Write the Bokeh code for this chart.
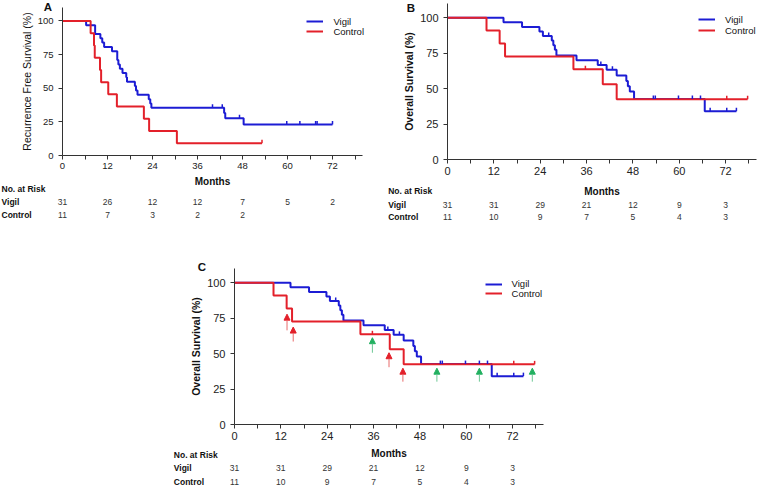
import numpy as np
from bokeh.plotting import figure
from bokeh.layouts import column, row
from bokeh.models import (ColumnDataSource, FixedTicker, Label, LabelSet, Legend,
                          LegendItem, Arrow, NormalHead, Range1d, Spacer)
from bokeh.core.properties import value
from bokeh.embed import file_html
from bokeh.resources import INLINE

FONT = "Liberation Sans"
BLUE = "#1c1cd4"
RED = "#e3202a"
GREEN = "#22b060"
AXIS = "#333333"

# ---------------- data ----------------
# Panel A: recurrence free survival (step times in months, survival % after step)
A_VIGIL_T = [0, 6.3, 8.7, 10.1, 10.6, 11.1, 13.2, 14.6, 14.9, 15.3, 16.0, 17.0, 17.2,
             19.3, 19.6, 20.0, 23.0, 23.4, 23.7, 43.1, 43.4, 48.3, 72.0]
A_VIGIL_S = [100, 96.8, 90.3, 87.1, 83.9, 80.6, 77.4, 71.0, 67.7, 64.5, 61.3, 58.1, 54.8,
             51.6, 48.4, 45.2, 41.9, 38.7, 35.5, 31.6, 27.6, 23.0, 23.0]
A_VIGIL_CENSOR = [40.0, 42.6, 47.2, 59.8, 63.3, 67.5, 67.9, 72.0]
A_CONTROL_T = [0, 7.5, 8.4, 8.6, 10.0, 10.3, 12.2, 14.5, 21.7, 23.1, 30.5, 53.2]
A_CONTROL_S = [100, 90.9, 81.8, 72.7, 63.6, 54.5, 45.5, 36.4, 27.3, 18.2, 9.1, 9.1]
A_CONTROL_CENSOR = [53.2]

# Panels B and C: overall survival
OS_VIGIL_T = [0, 14.5, 19.3, 23.8, 24.7, 27.0, 27.4, 27.8, 28.2, 33.4, 38.9, 41.2, 43.8,
              46.3, 46.7, 47.2, 48.3, 66.6, 74.8]
OS_VIGIL_S = [100, 96.8, 93.5, 90.3, 87.1, 83.9, 80.6, 77.3, 73.4, 70.0, 66.7, 63.2, 59.2,
              55.4, 51.6, 47.9, 42.6, 34.1, 34.1]
OS_VIGIL_CENSOR = [26.2, 39.7, 42.7, 53.3, 53.8, 59.8, 63.4, 65.5, 68.0, 72.3, 74.8]
OS_CONTROL_T = [0, 10.1, 13.5, 14.9, 32.6, 40.2, 43.8, 77.7]
OS_CONTROL_S = [100, 90.9, 81.8, 72.7, 63.6, 53.0, 42.4, 42.4]
OS_CONTROL_CENSOR = [35.7, 72.3, 77.7]

# Numbers at risk
RISK_MONTHS = [0, 12, 24, 36, 48, 60, 72]
A_RISK_VIGIL = [31, 26, 12, 12, 7, 5, 2]
A_RISK_CONTROL = [11, 7, 3, 2, 2]
OS_RISK_VIGIL = [31, 31, 29, 21, 12, 9, 3]
OS_RISK_CONTROL = [11, 10, 9, 7, 5, 4, 3]

# Panel C arrows (month, tip %, tail %)
C_RED_ARROW_X = [13.6, 15.2, 40.0, 43.6]
C_RED_ARROW_TIP = [77.8, 68.7, 50.6, 39.7]
C_RED_ARROW_TAIL = [66.4, 58.5, 40.4, 30.2]
C_GREEN_ARROW_X = [35.7, 52.4, 63.4, 77.1]
C_GREEN_ARROW_TIP = [61.2, 39.7, 39.7, 39.7]
C_GREEN_ARROW_TAIL = [50.6, 30.2, 30.2, 30.2]

X_TICKS = [0, 12, 24, 36, 48, 60, 72]
X_MINOR = [6, 18, 30, 42, 54, 66, 78]
Y_TICKS = [0, 25, 50, 75, 100]
X_MAX = 80
Y_MAX = 110

LEG_H = 12


def surv_at(T, S, times):
    T = np.asarray(T); S = np.asarray(S)
    idx = np.searchsorted(T, np.asarray(times), side="right") - 1
    return S[idx]


def km_panel(letter, ylabel, ylabel_bold, vt, vs, vc, ct, cs, cc, rv, rc,
             W, H, px0, px80, py110, py0, tick_size, xlabel_standoff,
             letter_pos, legend_x, legend_rows, risk_rows, risk_x):
    pxpm = (px80 - px0) / X_MAX
    pxpu = (py0 - py110) / Y_MAX
    tx = lambda px: (px - px0) / pxpm
    ty = lambda py: (py0 - py) / pxpu
    p = figure(width=W, height=H, title=None,
               x_range=Range1d(tx(0), tx(W)), y_range=Range1d(ty(H), ty(0)),
               min_border=0, output_backend="svg", toolbar_location=None)
    p.grid.visible = False
    p.outline_line_color = None
    p.background_fill_color = "white"
    p.border_fill_color = "white"

    # axes placed at the data origin, limited to the plotted range
    p.xaxis.fixed_location = 0
    p.yaxis.fixed_location = 0
    p.xaxis.bounds = (0, X_MAX)
    p.yaxis.bounds = (0, Y_MAX)
    p.xaxis.ticker = FixedTicker(ticks=X_TICKS, minor_ticks=X_MINOR)
    p.yaxis.ticker = FixedTicker(ticks=Y_TICKS, minor_ticks=[])
    for ax in (p.xaxis, p.yaxis):
        ax.axis_line_color = AXIS
        ax.major_tick_line_color = AXIS
        ax.minor_tick_line_color = AXIS
        ax.major_tick_in = 0
        ax.major_tick_out = 4
        ax.minor_tick_in = 0
        ax.minor_tick_out = 4
        ax.major_label_text_font = FONT
        ax.major_label_text_font_size = tick_size
        ax.major_label_text_color = "#222222"
        ax.axis_label_text_font = FONT
        ax.axis_label_text_color = "#111111"
    p.xaxis.major_label_standoff = 3
    p.yaxis.major_label_standoff = 5
    p.xaxis.axis_label = "Months"
    p.xaxis.axis_label_text_font_style = "bold"
    p.xaxis.axis_label_text_font_size = "10px"
    p.xaxis.axis_label_standoff = xlabel_standoff
    p.yaxis.axis_label = ylabel
    p.yaxis.axis_label_text_font_style = "bold" if ylabel_bold else "normal"
    p.yaxis.axis_label_text_font_size = "10.5px"
    p.yaxis.axis_label_standoff = 2

    # curves
    rv_ = p.step(vt, vs, mode="after", line_color=BLUE, line_width=2)
    rc_ = p.step(ct, cs, mode="after", line_color=RED, line_width=2)
    tick_h = 3.5 / pxpu
    for cens, T, S, col in ((cc, ct, cs, RED), (vc, vt, vs, BLUE)):
        yy = surv_at(T, S, cens)
        src = ColumnDataSource(dict(x=cens, y0=yy, y1=yy + tick_h))
        p.segment(x0="x", y0="y0", x1="x", y1="y1", source=src,
                  line_color=col, line_width=1.5)

    # legend: one entry per row so the row spacing can follow the original
    for lab, r, cy in (("Vigil", rv_, legend_rows[0]), ("Control", rc_, legend_rows[1])):
        leg = Legend(items=[LegendItem(label=lab, renderers=[r])],
                     location=(legend_x, H - cy - LEG_H / 2),
                     border_line_color=None, background_fill_alpha=0,
                     padding=0, spacing=0, margin=0, label_standoff=10,
                     glyph_width=17, glyph_height=LEG_H, label_height=LEG_H,
                     label_text_font=FONT, label_text_font_size="9.5px",
                     label_text_color="#111111")
        p.add_layout(leg)

    # panel letter
    p.add_layout(Label(x=tx(letter_pos[0]), y=ty(letter_pos[1]),
                       text=letter, text_font=FONT, text_font_size="11.5px",
                       text_font_style="bold", text_align="center",
                       text_baseline="middle", text_color="#111111"))

    # numbers at risk
    for txt, rpx in (("No. at Risk", risk_rows[0]), ("Vigil", risk_rows[1]),
                     ("Control", risk_rows[2])):
        p.add_layout(Label(x=tx(risk_x), y=ty(rpx), text=txt, text_font=FONT,
                           text_font_size="8.5px", text_font_style="bold",
                           text_align="left", text_baseline="middle",
                           text_color="#111111"))
    for counts, rpx in ((rv, risk_rows[1]), (rc, risk_rows[2])):
        src = ColumnDataSource(dict(x=RISK_MONTHS[:len(counts)],
                                    y=[ty(rpx)] * len(counts),
                                    t=[str(c) for c in counts]))
        p.add_layout(LabelSet(x="x", y="y", text="t", source=src,
                              text_font=value(FONT), text_font_size="8.5px",
                              text_align="center", text_baseline="middle",
                              text_color="#333333"))
    return p


pA = km_panel("A", "Recurrence Free Survival (%)", False,
              A_VIGIL_T, A_VIGIL_S, A_VIGIL_CENSOR,
              A_CONTROL_T, A_CONTROL_S, A_CONTROL_CENSOR,
              A_RISK_VIGIL, A_RISK_CONTROL,
              W=385, H=238, px0=62, px80=362, py110=7, py0=155, tick_size="9.5px",
              xlabel_standoff=4, letter_pos=(47.5, 6.5), legend_x=306.4,
              legend_rows=(21.3, 31.0), risk_rows=(188, 201, 214), risk_x=1)

pB = km_panel("B", "Overall Survival (%)", True,
              OS_VIGIL_T, OS_VIGIL_S, OS_VIGIL_CENSOR,
              OS_CONTROL_T, OS_CONTROL_S, OS_CONTROL_CENSOR,
              OS_RISK_VIGIL, OS_RISK_CONTROL,
              W=373, H=238, px0=62, px80=371, py110=3, py0=159, tick_size="11px",
              xlabel_standoff=8, letter_pos=(25.5, 7.5), legend_x=313,
              legend_rows=(19.4, 30.0), risk_rows=(190.4, 204.2, 216.8), risk_x=2.7)

pC = km_panel("C", "Overall Survival (%)", True,
              OS_VIGIL_T, OS_VIGIL_S, OS_VIGIL_CENSOR,
              OS_CONTROL_T, OS_CONTROL_S, OS_CONTROL_CENSOR,
              OS_RISK_VIGIL, OS_RISK_CONTROL,
              W=385, H=249, px0=66, px80=375, py110=30, py0=186, tick_size="11px",
              xlabel_standoff=5, letter_pos=(33.5, 28.0), legend_x=316.6,
              legend_rows=(45.6, 55.3), risk_rows=(216, 229, 243), risk_x=5.3)

for xs, tips, tails, head_col, shaft_col in (
        (C_RED_ARROW_X, C_RED_ARROW_TIP, C_RED_ARROW_TAIL, RED, "#e86a6a"),
        (C_GREEN_ARROW_X, C_GREEN_ARROW_TIP, C_GREEN_ARROW_TAIL, GREEN, "#6cc894")):
    src = ColumnDataSource(dict(x=xs, y0=tails, y1=tips))
    pC.add_layout(Arrow(end=NormalHead(size=6, fill_color=head_col, line_color=head_col),
                        x_start="x", y_start="y0", x_end="x", y_end="y1",
                        source=src, line_color=shaft_col, line_width=1))

layout = column(row(pA, pB), row(Spacer(width=168, height=249), pC))

open("out.html", "w").write(file_html(layout, INLINE))
